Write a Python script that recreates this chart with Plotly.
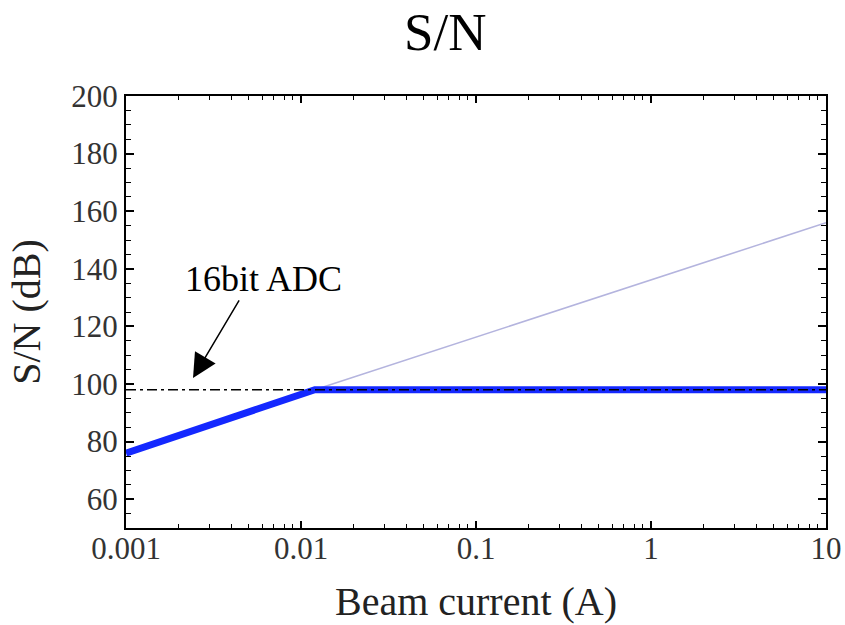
import plotly.graph_objects as go

# Beam current (A) and S/N (dB)
current = [0.001, 0.012, 10]
sn_ideal = [76, 98, 156]        # pickup-limited S/N
sn_with_adc = [76, 98, 98]      # S/N clipped by the ADC
adc_current = [0.001, 10]
adc_level = [98, 98]            # 16bit ADC limit

y_ticks = [60, 80, 100, 120, 140, 160, 180, 200]
x_ticks = [0.001, 0.01, 0.1, 1, 10]
x_tick_text = ["0.001", "0.01", "0.1", "1", "10"]
x_minor = [m * d for d in (0.001, 0.01, 0.1, 1) for m in range(2, 10)]

serif = "Liberation Serif, Times New Roman, serif"

fig = go.Figure()
fig.add_trace(go.Scatter(
    x=current[1:], y=sn_ideal[1:], mode="lines",
    line=dict(color="rgb(180,180,222)", width=1.6), showlegend=False))
fig.add_trace(go.Scatter(
    x=current, y=sn_with_adc, mode="lines",
    line=dict(color="rgb(20,40,255)", width=7), showlegend=False))
fig.add_trace(go.Scatter(
    x=adc_current, y=adc_level, mode="lines",
    line=dict(color="black", width=1.5, dash="10px,4px,3px,4px"), showlegend=False))

# arrow pointing at the ADC limit
fig.add_annotation(
    x=-2.617, y=102.1, xref="x", yref="y", text="",
    showarrow=True, ax=47, ay=-79, axref="pixel", ayref="pixel",
    arrowhead=2, arrowsize=3.2, arrowwidth=1.5, arrowcolor="black")
fig.add_annotation(
    x=-2.217, y=136.5, xref="x", yref="y", text="16bit ADC",
    showarrow=False, font=dict(family=serif, size=36, color="black"))

fig.update_layout(
    width=845, height=625,
    margin=dict(l=126, r=19, t=96, b=97),
    paper_bgcolor="white", plot_bgcolor="white",
    title=dict(text="S/N", x=0.527, xanchor="center", y=0.95, yanchor="middle",
               font=dict(family=serif, size=53, color="black")),
    font=dict(family=serif, color="black"),
)
fig.update_xaxes(
    type="log", range=[-3, 1], automargin=False,
    tickvals=x_ticks, ticktext=x_tick_text,
    ticks="inside", ticklen=7, tickwidth=1.5, tickcolor="black",
    ticklabelstandoff=-8,
    minor=dict(tickvals=x_minor, ticks="inside", ticklen=4, tickwidth=1.2,
               tickcolor="black", showgrid=False),
    showline=True, linecolor="black", linewidth=2, mirror="ticks",
    showgrid=False, zeroline=False,
    tickfont=dict(family=serif, size=31, color="#333"),
    title=dict(text="Beam current (A)", font=dict(family=serif, size=40, color="#222"), standoff=22),
)
fig.update_yaxes(
    range=[50, 200], tickvals=y_ticks, automargin=False,
    ticks="inside", ticklen=8, tickwidth=1.5, tickcolor="black",
    minor=dict(dtick=5, ticks="inside", ticklen=5, tickwidth=1.2, tickcolor="black", showgrid=False),
    showline=True, linecolor="black", linewidth=2, mirror="ticks",
    showgrid=False, zeroline=False,
    tickfont=dict(family=serif, size=31, color="#333"),
    title=dict(text="S/N (dB)", font=dict(family=serif, size=40, color="#222"), standoff=18),
)

fig.write_html("out.html")
